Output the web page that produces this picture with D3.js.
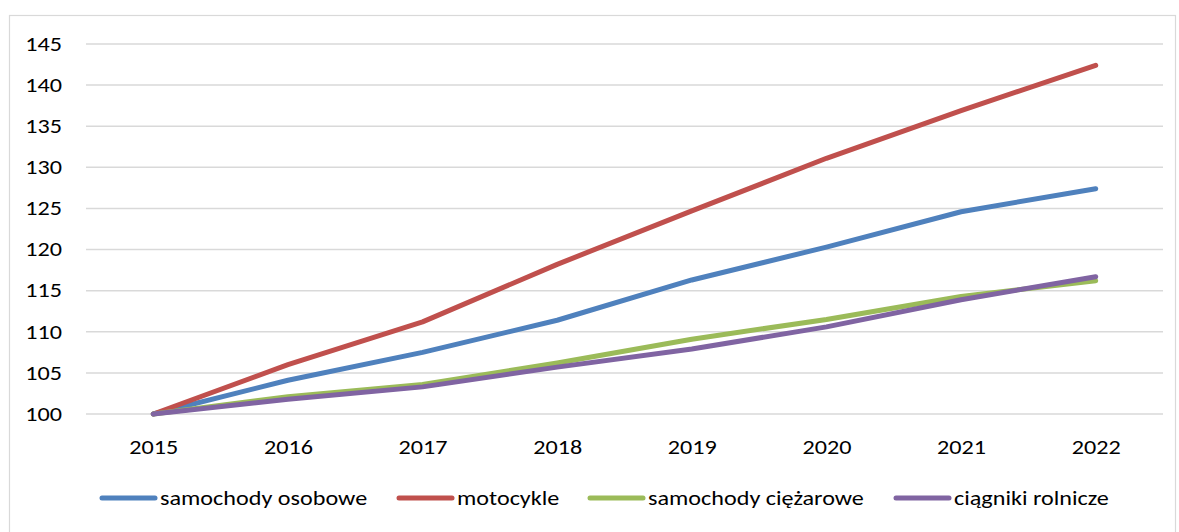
<!DOCTYPE html>
<meta charset="utf-8" />
<style>
  body { margin: 0; background: #fff; }
  text { font-family: Carlito, Calibri, Lato, sans-serif; fill: #000; }
</style>
<body>
  <div id="chart"></div>
  <script src="https://d3js.org/d3.v7.min.js"></script>
  <script>
    // data
    var years = ["2015", "2016", "2017", "2018", "2019", "2020", "2021", "2022"];
    var osobowe = [100, 104.1, 107.5, 111.4, 116.3, 120.3, 124.6, 127.4];
    var motocykle = [100, 106.0, 111.2, 118.2, 124.7, 131.1, 136.9, 142.4];
    var ciezarowe = [100, 102.1, 103.6, 106.2, 109.1, 111.5, 114.3, 116.2];
    var ciagniki = [100, 101.8, 103.3, 105.7, 107.9, 110.6, 113.9, 116.7];
    var yTicks = [100, 105, 110, 115, 120, 125, 130, 135, 140, 145];

    var series = [
      { name: "samochody osobowe", values: osobowe, color: "#4f81bd" },
      { name: "motocykle", values: motocykle, color: "#c0504d" },
      { name: "samochody ciężarowe", values: ciezarowe, color: "#9bbb59" },
      { name: "ciągniki rolnicze", values: ciagniki, color: "#8064a2" }
    ];

    var W = 1179, H = 532;
    var margin = { top: 44, left: 86, right: 16, bottom: 118 };
    var width = W - margin.left - margin.right,
      height = H - margin.top - margin.bottom;

    // the original text is a bit wide, so stretch it sideways
    var sx = 1.24;
    var fontSize = "19.5px";

    var svg = d3
      .select("#chart")
      .append("svg")
      .attr("width", W)
      .attr("height", H);

    // outer frame
    svg
      .append("rect")
      .attr("x", 9.5)
      .attr("y", 15.5)
      .attr("width", 1166)
      .attr("height", 530)
      .attr("fill", "none")
      .attr("stroke", "#d9d9d9")
      .attr("stroke-width", 1.2);

    var g = svg
      .append("g")
      .attr("transform", "translate(" + margin.left + "," + margin.top + ")");

    var x = d3.scalePoint().domain(years).range([0, width]).padding(0.5);
    var y = d3.scaleLinear().domain([100, 145]).range([height, 0]);

    // gridlines
    g.append("g")
      .selectAll("line")
      .data(yTicks)
      .enter()
      .append("line")
      .attr("x1", 0)
      .attr("x2", width)
      .attr("y1", function(d) { return y(d); })
      .attr("y2", function(d) { return y(d); })
      .attr("stroke", "#d9d9d9")
      .attr("stroke-width", 1.5);

    // y axis labels
    var yAxis = g
      .append("g")
      .call(d3.axisLeft(y).tickValues(yTicks).tickSize(0));
    yAxis.select(".domain").remove();
    yAxis
      .selectAll("text")
      .style("font-size", fontSize)
      .attr("fill", "#000")
      .attr("x", -24 / sx)
      .attr("transform", "scale(" + sx + ",1)");

    // x axis labels
    var xAxis = g
      .append("g")
      .attr("transform", "translate(0," + height + ")")
      .call(d3.axisBottom(x).tickSize(0).tickPadding(26));
    xAxis.select(".domain").remove();
    xAxis
      .selectAll("text")
      .style("font-size", fontSize)
      .attr("fill", "#000")
      .attr("transform", "scale(" + sx + ",1)");

    var line = d3
      .line()
      .x(function(d, i) { return x(years[i]); })
      .y(function(d) { return y(d); });

    g.selectAll(".series")
      .data(series)
      .enter()
      .append("path")
      .attr("class", "series")
      .attr("fill", "none")
      .attr("stroke", function(d) { return d.color; })
      .attr("stroke-width", 5)
      .attr("stroke-linecap", "round")
      .attr("stroke-linejoin", "round")
      .attr("d", function(d) { return line(d.values); });

    // legend
    var legendX = [100, 397, 588, 894];
    var legend = svg
      .selectAll(".legend")
      .data(series)
      .enter()
      .append("g")
      .attr("class", "legend")
      .attr("transform", function(d, i) { return "translate(" + legendX[i] + ",498)"; });

    legend
      .append("line")
      .attr("x1", 2)
      .attr("x2", 55)
      .attr("stroke", function(d) { return d.color; })
      .attr("stroke-width", 5)
      .attr("stroke-linecap", "round");

    legend
      .append("text")
      .attr("transform", "translate(60,0) scale(" + sx + ",1)")
      .attr("dy", "0.35em")
      .style("font-size", fontSize)
      .text(function(d) { return d.name; });
  </script>
</body>
